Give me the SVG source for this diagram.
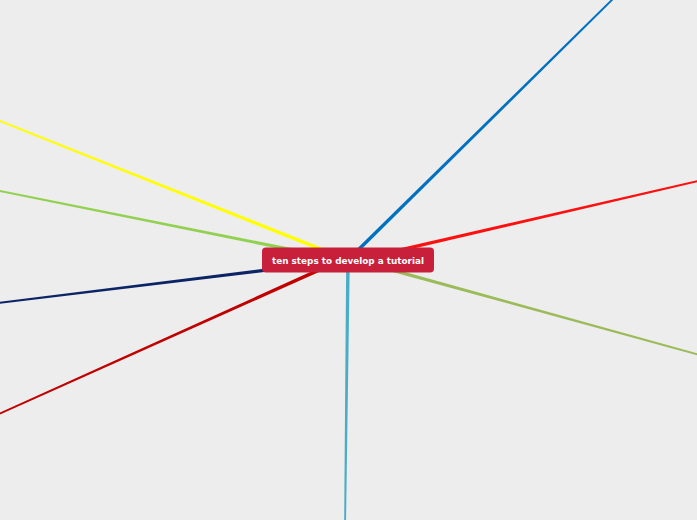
<svg xmlns="http://www.w3.org/2000/svg" width="697" height="520" viewBox="0 0 697 520">
<style>
.n{fill:#c8203a}
.t{fill:#ffffff;font-family:"DejaVu Sans",Verdana,sans-serif;font-weight:bold;font-size:9px}
</style>
<rect width="697" height="520" fill="#ededed"/>
<g id="connectors">
<path fill="#ffff00" d="M348.67 258.33 L-9.67 116.16 L-10.33 117.84 L347.33 261.67 Z"/>
<path fill="#92d050" d="M348.35 259.24 L-9.82 188.12 L-10.18 189.88 L347.65 262.76 Z"/>
<path fill="#0b2466" d="M347.78 258.21 L-10.11 303.11 L-9.89 304.89 L348.22 261.79 Z"/>
<path fill="#c00000" d="M347.26 255.36 L-10.37 417.18 L-9.63 418.82 L348.74 258.64 Z"/>
<path fill="#0070c0" d="M349.26 261.28 L622.63 -9.36 L621.37 -10.64 L346.74 258.72 Z"/>
<path fill="#ff1010" d="M348.41 263.75 L707.2 179.88 L706.8 178.12 L347.59 260.25 Z"/>
<path fill="#9bbb59" d="M347.52 259.74 L706.76 357.87 L707.24 356.13 L348.48 256.26 Z"/>
<path fill="#4bacc6" d="M346.2 259.98 L344.1 529.99 L345.9 530.01 L349.8 260.02 Z"/>
</g>
<g id="root">
<rect class="n" x="262" y="247.5" width="172" height="25" rx="4"/>
<text class="t" x="348" y="264.3" text-anchor="middle" textLength="152" lengthAdjust="spacingAndGlyphs">ten steps to develop a tutorial</text>
</g>
</svg>
